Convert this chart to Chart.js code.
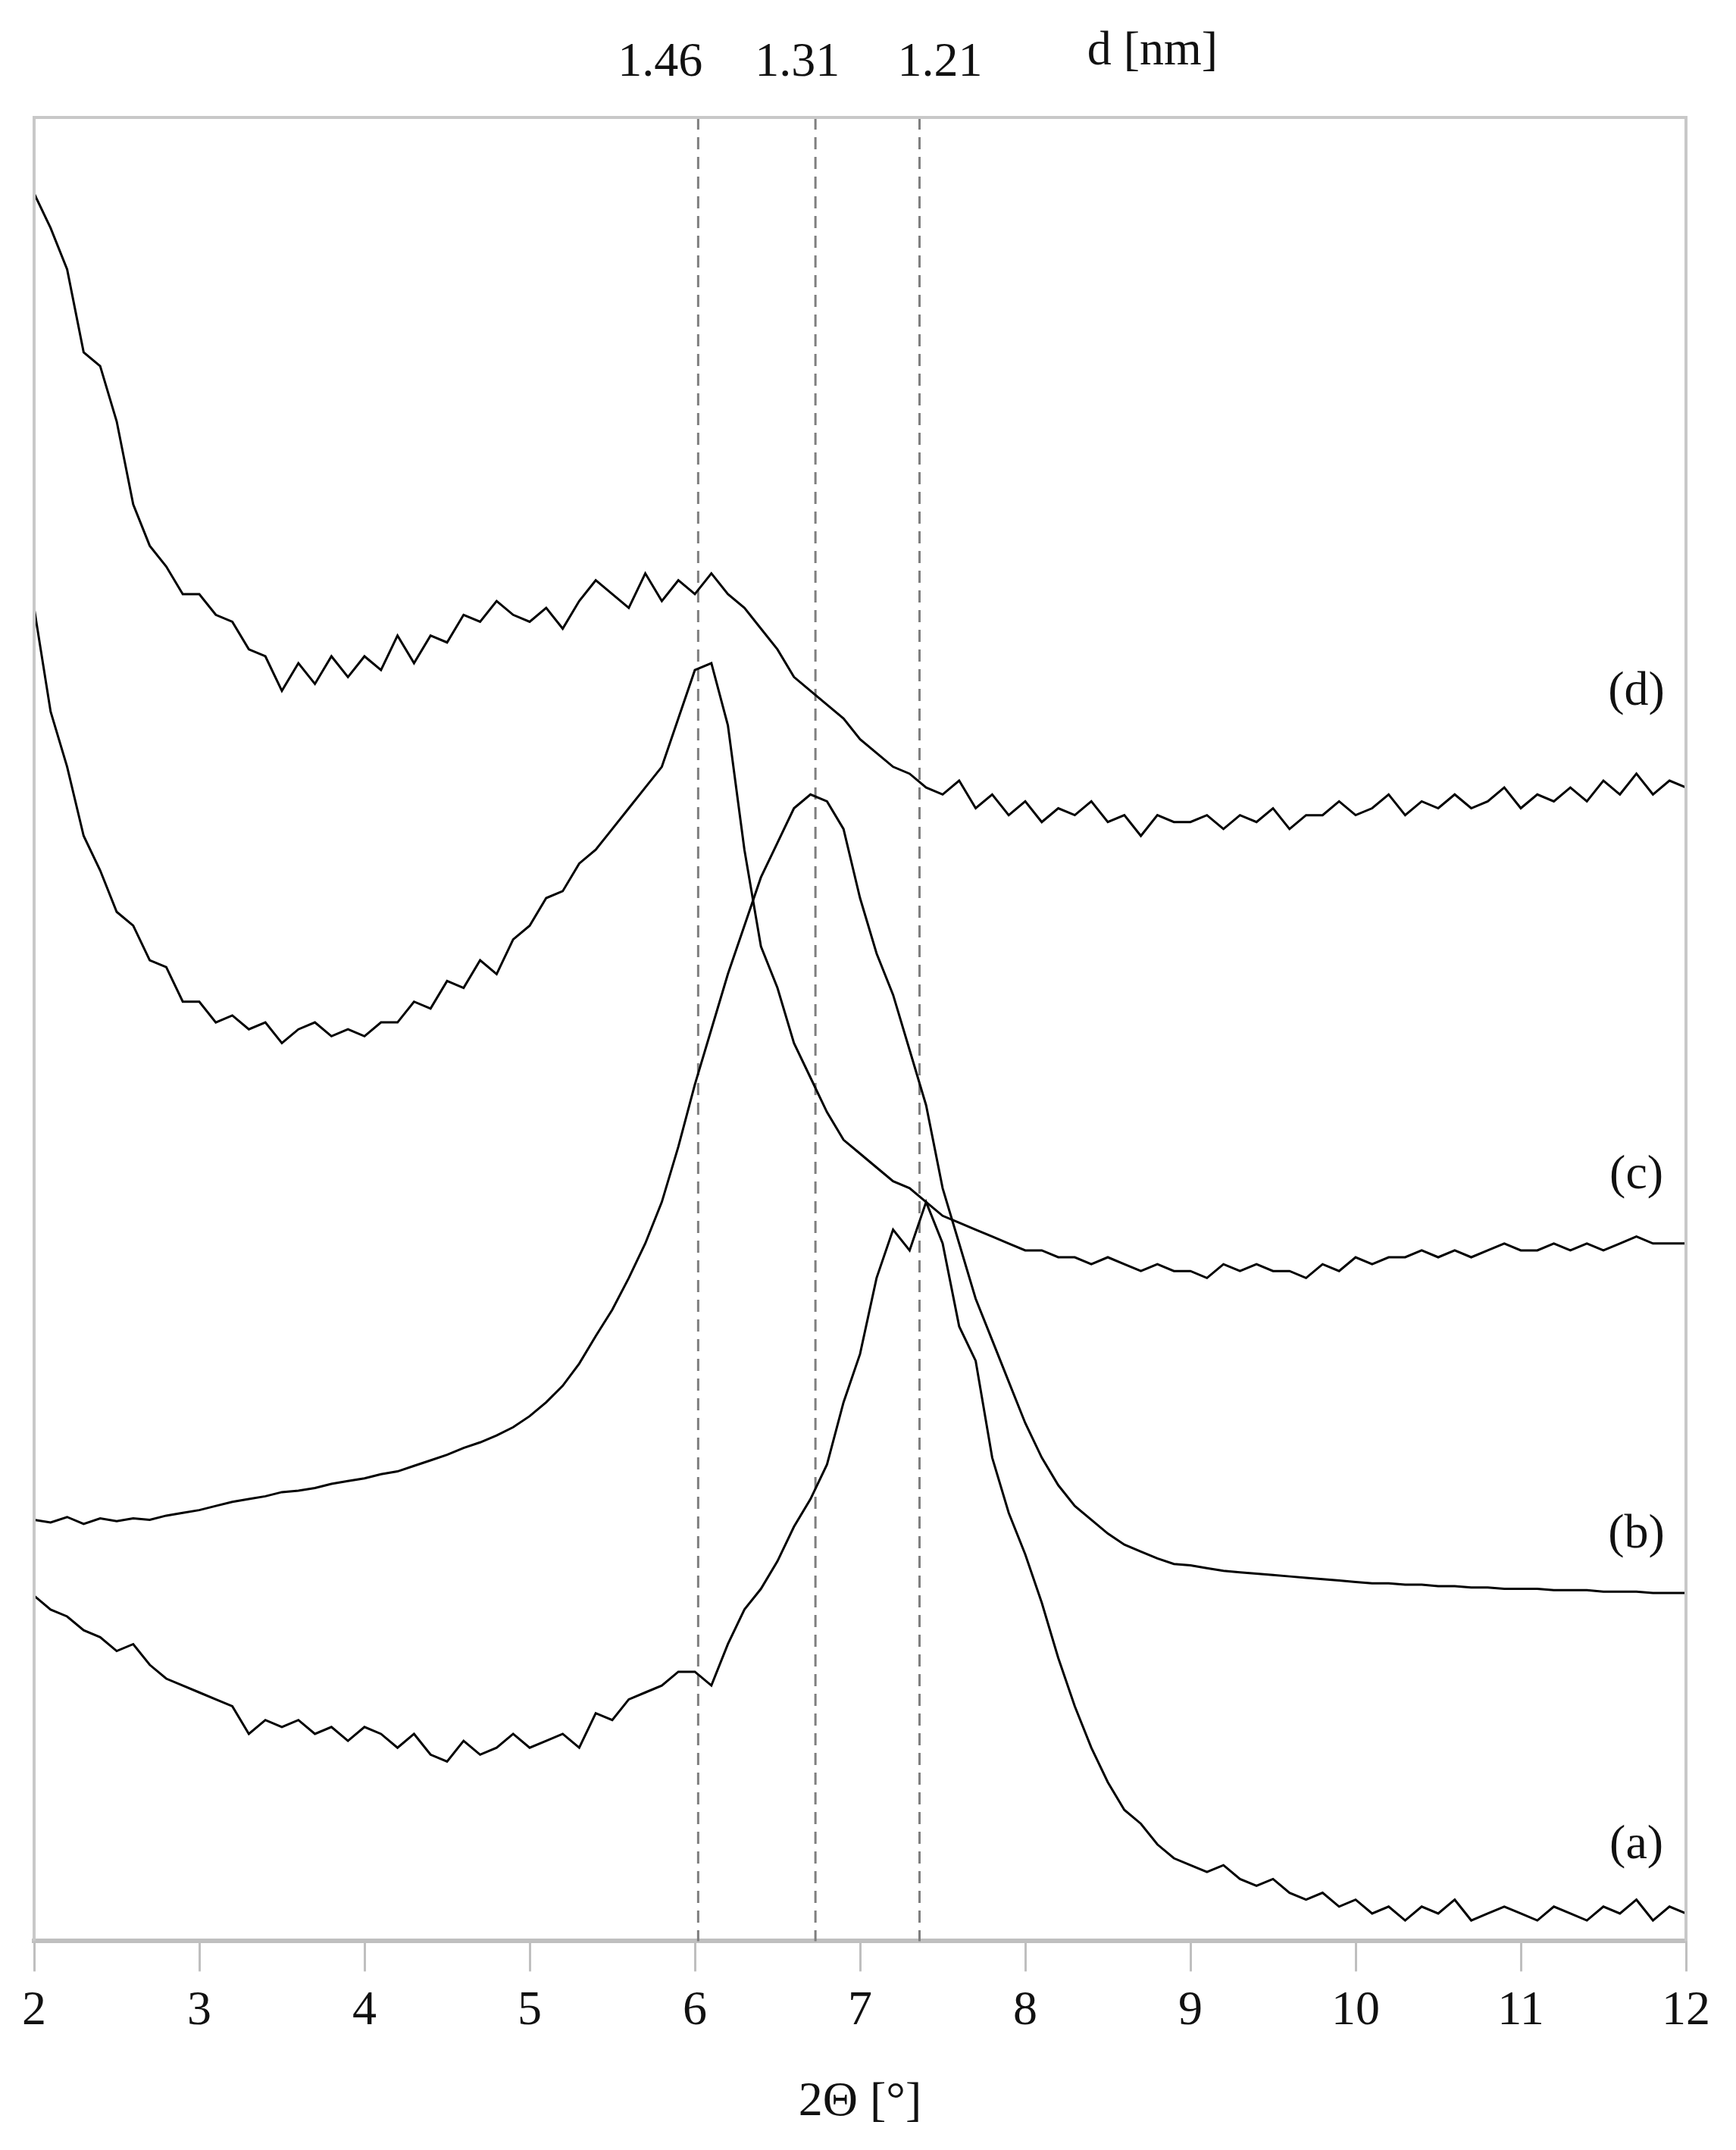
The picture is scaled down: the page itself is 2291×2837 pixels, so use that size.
<!DOCTYPE html>
<html><head><meta charset="utf-8">
<script src="https://cdn.jsdelivr.net/npm/chart.js@4/dist/chart.umd.min.js"></script>
<style>html,body{margin:0;padding:0;background:#fff}</style>
</head><body>
<canvas id="c" width="2291" height="2837"></canvas>
<script>
const xStart = 2, xStep = 0.1;
const seriesD = [1265,1240,1210,1150,1140,1100,1040,1010,995,975,
 975,960,955,935,930,905,925,910,930,915,
 930,920,945,925,945,940,960,955,970,960,
 955,965,950,970,985,975,965,990,970,985,
 975,990,975,965,950,935,915,905,895,885,
 870,860,850,845,835,830,840,820,830,815,
 825,810,820,815,825,810,815,800,815,810,
 810,815,805,815,810,820,805,815,815,825,
 815,820,830,815,825,820,830,820,825,835,
 820,830,825,835,825,840,830,845,830,840,
 835];
const seriesC = [965,890,850,800,775,745,735,710,705,680,
 680,665,670,660,665,650,660,665,655,660,
 655,665,665,680,675,695,690,710,700,725,
 735,755,760,780,790,805,820,835,850,885,
 920,925,880,790,720,690,650,625,600,580,
 570,560,550,545,535,525,520,515,510,505,
 500,500,495,495,490,495,490,485,490,485,
 485,480,490,485,490,485,485,480,490,485,
 495,490,495,495,500,495,500,495,500,505,
 500,500,505,500,505,500,505,510,505,505,
 505];
const seriesB = [305,303,307,302,306,304,306,305,308,310,
 312,315,318,320,322,325,326,328,331,333,
 335,338,340,344,348,352,357,361,366,372,
 380,390,402,418,438,457,480,505,535,575,
 620,660,700,735,770,795,820,830,825,805,
 755,715,685,645,605,545,505,465,435,405,
 375,350,330,315,305,295,287,282,277,273,
 272,270,268,267,266,265,264,263,262,261,
 260,259,259,258,258,257,257,256,256,255,
 255,255,254,254,254,253,253,253,252,252,
 252];
const seriesA = [250,240,235,225,220,210,215,200,190,185,
 180,175,170,150,160,155,160,150,155,145,
 155,150,140,150,135,130,145,135,140,150,
 140,145,150,140,165,160,175,180,185,195,
 195,185,215,240,255,275,300,320,345,390,
 425,480,515,500,535,505,445,420,350,310,
 280,245,205,170,140,115,95,85,70,60,
 55,50,55,45,40,45,35,30,35,25,
 30,20,25,15,25,20,30,15,20,25,
 20,15,25,20,15,25,20,30,15,25,
 20];
const seriesNames = ['(d)','(c)','(b)','(a)'];
const labelY = [895,545,285,60];
const dLines = [6.02, 6.73, 7.36];
const dLabels = ['1.46','1.31','1.21'];
const dLabelShift = [-50,-24,27];
const xTicks = [2,3,4,5,6,7,8,9,10,11,12];

const toPts = arr => arr.map((v,i)=>({x: +(xStart + i*xStep).toFixed(2), y: v}));
const all = [seriesD, seriesC, seriesB, seriesA];
const FONT = '"Liberation Serif", "DejaVu Serif", serif';

const overlay = {
  id:'overlay',
  beforeDatasetsDraw(chart){
    const {ctx, scales:{x}, chartArea:a} = chart;
    ctx.save();
    ctx.strokeStyle='#7f7f7f'; ctx.lineWidth=3; ctx.setLineDash([16,10]);
    dLines.forEach(v=>{const px=x.getPixelForValue(v);ctx.beginPath();ctx.moveTo(px,a.top);ctx.lineTo(px,a.bottom);ctx.stroke();});
    ctx.restore();
  },
  afterDraw(chart){
    const {ctx, scales:{x,y}} = chart;
    ctx.save();
    ctx.fillStyle='#111'; ctx.font='64px '+FONT; ctx.textAlign='center'; ctx.textBaseline='alphabetic';
    dLines.forEach((v,i)=>ctx.fillText(dLabels[i], x.getPixelForValue(v)+dLabelShift[i], 100));
    ctx.fillText('d [nm]', x.getPixelForValue(8.77), 85);
    seriesNames.forEach((n,i)=>ctx.fillText(n, x.getPixelForValue(11.7), y.getPixelForValue(labelY[i])));
    ctx.restore();
  }
};

new Chart(document.getElementById('c'), {
  type:'line',
  data:{datasets: all.map((s,i)=>({label:seriesNames[i], data:toPts(s), borderColor:'#000', borderWidth:3, pointRadius:0, tension:0, fill:false}))},
  options:{
    responsive:false, devicePixelRatio:1, animation:false,
    layout:{padding:{left:45,right:66,top:155,bottom:20}},
    plugins:{legend:{display:false},tooltip:{enabled:false}},
    scales:{
      x:{type:'linear', min:2, max:12,
        afterBuildTicks: s=>{s.ticks = xTicks.map(v=>({value:v}));},
        grid:{drawOnChartArea:false, color:'#bfbfbf', lineWidth:3, tickLength:40},
        border:{color:'#bfbfbf', width:6},
        ticks:{color:'#111', font:{family:FONT,size:64}, padding:14, maxRotation:0},
        title:{display:true, text:'2Θ [°]', color:'#111', font:{family:FONT,size:64}, padding:{top:30}}
      },
      y:{min:0, max:1320, display:false}
    }
  },
  plugins:[overlay, {id:'frame', afterDraw(chart){const {ctx,chartArea:a}=chart;ctx.save();ctx.strokeStyle='#c8c8c8';ctx.lineWidth=4;ctx.beginPath();ctx.moveTo(a.left,a.bottom);ctx.lineTo(a.left,a.top);ctx.lineTo(a.right,a.top);ctx.lineTo(a.right,a.bottom);ctx.stroke();ctx.restore();}}]
});
</script>
</body></html>
